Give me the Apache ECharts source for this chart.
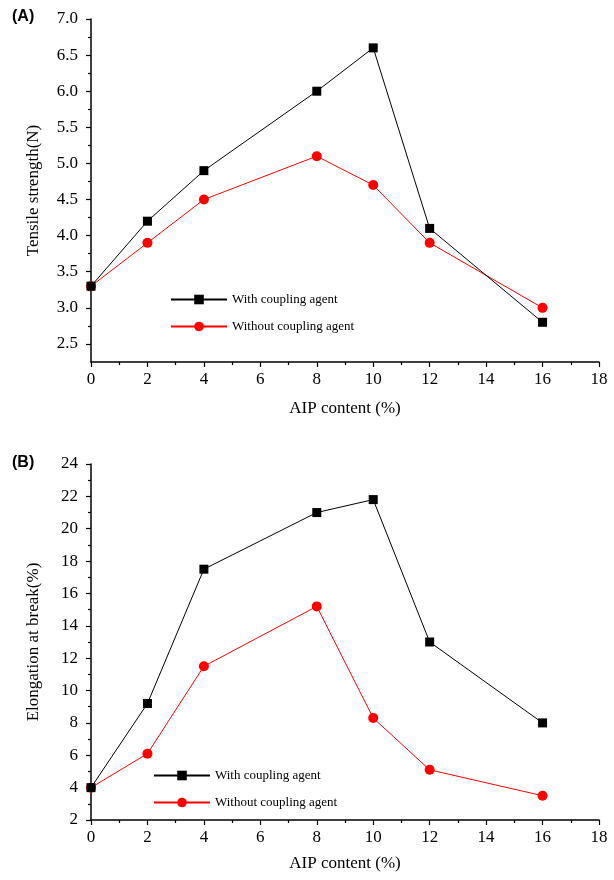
<!DOCTYPE html>
<html>
<head>
<meta charset="utf-8">
<script src="https://cdn.jsdelivr.net/npm/echarts@6/dist/echarts.min.js"></script>
<style>
  html, body { margin: 0; padding: 0; background: #fff; }
  #chart { width: 614px; height: 880px; }
</style>
</head>
<body>
<div id="chart"></div>
<script>
// AIP content (%) on the x axis
var aipContent = [0, 2, 4, 8, 10, 12, 16];

// (A) tensile strength, N
var tensileWith = [3.3, 4.2, 4.9, 6.0, 6.6, 4.1, 2.8];
var tensileWithout = [3.3, 3.9, 4.5, 5.1, 4.7, 3.9, 3.0];

// (B) elongation at break, %
var elongWith = [4, 9.2, 17.5, 21, 21.8, 13, 8];
var elongWithout = [4, 6.1, 11.5, 15.2, 8.3, 5.1, 3.5];

// tick labels of the tensile axis (it starts at 2.25)
var tensileTicks = [2.5, 3.0, 3.5, 4.0, 4.5, 5.0, 5.5, 6.0, 6.5, 7.0];
var tensileMinor = [2.75, 3.25, 3.75, 4.25, 4.75, 5.25, 5.75, 6.25, 6.75];

var serif = 'Liberation Serif';

var pairs = function(xs, ys) {
    var out = [];
    for (var i = 0; i < xs.length; i++) {
        out.push([xs[i], ys[i]]);
    }
    return out;
};

var myChart = echarts.init(document.getElementById('chart'));

var xAxisBase = function(gridIndex, gap) {
    return {
        gridIndex: gridIndex,
        type: 'value',
        min: 0,
        max: 18,
        interval: 2,
        name: 'AIP content (%)',
        nameLocation: 'middle',
        nameGap: gap,
        nameTextStyle: { fontFamily: serif, fontSize: 17, color: '#000' },
        axisLine: { show: true, lineStyle: { color: '#000', width: 1.5 } },
        axisTick: { show: true, inside: false, length: 5, lineStyle: { color: '#000', width: 1.2 } },
        minorTick: { show: true, splitNumber: 2, length: 3, lineStyle: { color: '#000', width: 1.2 } },
        axisLabel: { fontFamily: serif, fontSize: 17, color: '#000', margin: 9 },
        splitLine: { show: false }
    };
};

var seriesStyle = function(name, color, symbol, size, xi, yi, data) {
    return {
        name: name,
        type: 'line',
        xAxisIndex: xi,
        yAxisIndex: yi,
        data: data,
        symbol: symbol,
        symbolSize: size,
        showSymbol: true,
        lineStyle: { color: color, width: 1 },
        itemStyle: { color: color },
        emphasis: { disabled: true },
        animation: false,
        z: symbol === 'rect' ? 3 : 2
    };
};

var legendBase = function(left, top) {
    return {
        orient: 'vertical',
        left: left,
        top: top,
        itemWidth: 56,
        itemHeight: 12,
        itemGap: 14,
        textStyle: { fontFamily: serif, fontSize: 13, color: '#000' },
        data: ['With coupling agent', 'Without coupling agent'],
        selectedMode: false
    };
};

var option = {
    animation: false,
    grid: [
        { left: 91, top: 19, width: 508, height: 343 },
        { left: 91, top: 464, width: 508, height: 356 }
    ],
    graphic: [
        { type: 'text', left: 12, top: 9, style: { text: '(A)', font: 'bold 16px "Liberation Sans"', fill: '#000' } },
        { type: 'text', left: 12, top: 455, style: { text: '(B)', font: 'bold 16px "Liberation Sans"', fill: '#000' } }
    ],
    legend: [legendBase(165, 288), legendBase(148, 764)],
    xAxis: [xAxisBase(0, 38), xAxisBase(1, 35)],
    yAxis: [
        {
            gridIndex: 0,
            type: 'value',
            min: 2.25,
            max: 7,
            name: 'Tensile strength(N)',
            nameLocation: 'middle',
            nameGap: 49,
            nameTextStyle: { fontFamily: serif, fontSize: 17, color: '#000' },
            axisLine: { show: true, lineStyle: { color: '#000', width: 1.5 } },
            axisTick: { show: true, length: 5, customValues: tensileTicks, lineStyle: { color: '#000', width: 1.2 } },
            axisLabel: {
                fontFamily: serif, fontSize: 17, color: '#000', margin: 13,
                customValues: tensileTicks,
                formatter: function(v) { return v.toFixed(1); }
            },
            splitLine: { show: false }
        },
        {
            // short ticks between the labelled ones
            gridIndex: 0,
            type: 'value',
            position: 'left',
            min: 2.25,
            max: 7,
            axisLine: { show: false },
            axisTick: { show: true, length: 3, customValues: tensileMinor, lineStyle: { color: '#000', width: 1.2 } },
            axisLabel: { show: false },
            splitLine: { show: false }
        },
        {
            gridIndex: 1,
            type: 'value',
            min: 2,
            max: 24,
            interval: 2,
            name: 'Elongation at break(%)',
            nameLocation: 'middle',
            nameGap: 49,
            nameTextStyle: { fontFamily: serif, fontSize: 17, color: '#000' },
            axisLine: { show: true, lineStyle: { color: '#000', width: 1.5 } },
            axisTick: { show: true, length: 5, lineStyle: { color: '#000', width: 1.2 } },
            minorTick: { show: true, splitNumber: 2, length: 3, lineStyle: { color: '#000', width: 1.2 } },
            axisLabel: { fontFamily: serif, fontSize: 17, color: '#000', margin: 13 },
            splitLine: { show: false }
        }
    ],
    series: [
        seriesStyle('With coupling agent', '#000', 'rect', 9, 0, 0, pairs(aipContent, tensileWith)),
        seriesStyle('Without coupling agent', '#ff0000', 'circle', 10, 0, 0, pairs(aipContent, tensileWithout)),
        seriesStyle('With coupling agent', '#000', 'rect', 9, 1, 2, pairs(aipContent, elongWith)),
        seriesStyle('Without coupling agent', '#ff0000', 'circle', 10, 1, 2, pairs(aipContent, elongWithout))
    ]
};

myChart.setOption(option);
</script>
</body>
</html>
